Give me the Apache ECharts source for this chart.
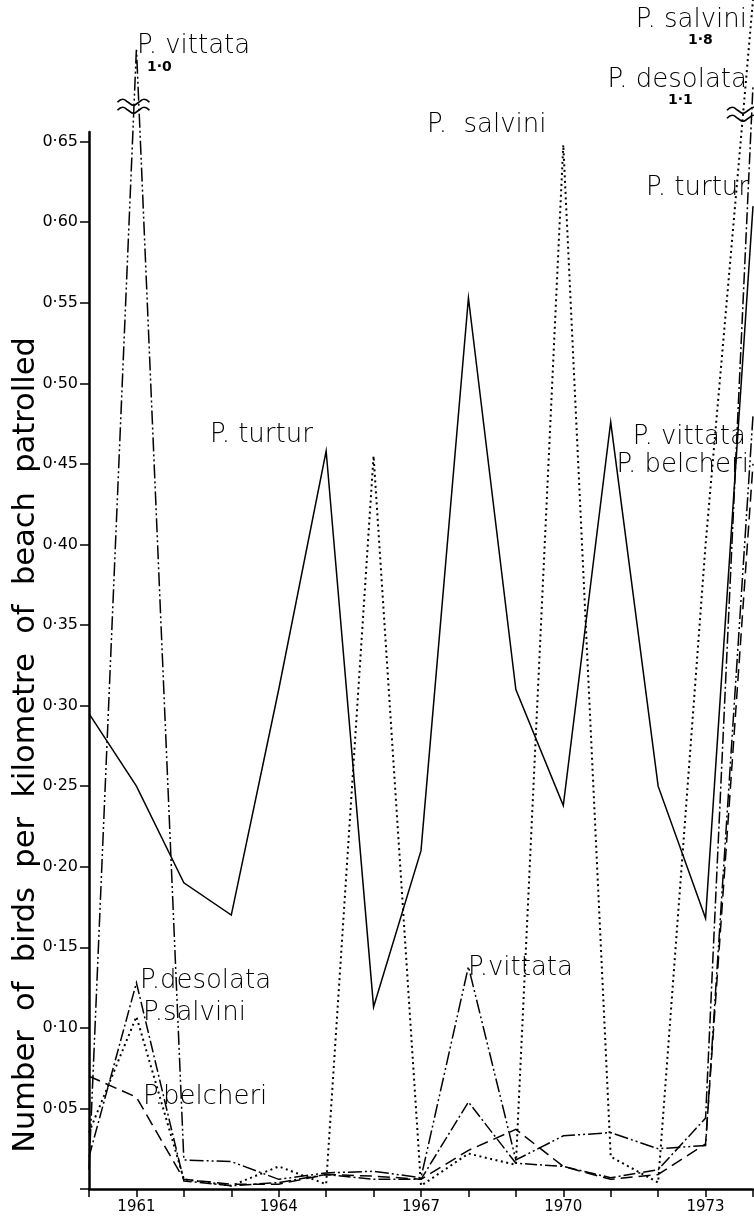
<!DOCTYPE html>
<html>
<head>
<meta charset="utf-8">
<script src="https://cdn.jsdelivr.net/npm/echarts@6/dist/echarts.min.js"></script>
<style>
  html, body { margin: 0; padding: 0; background: #fff; }
  #chart { width: 754px; height: 1219px; }
</style>
</head>
<body>
<div id="chart"></div>
<script>
// ---- data ----
const years = [1960, 1961, 1962, 1963, 1964, 1965, 1966, 1967, 1968, 1969, 1970, 1971, 1972, 1973, 1974];
const xLabelYears = [1961, 1964, 1967, 1970, 1973];
const yTicks = [0, 0.05, 0.10, 0.15, 0.20, 0.25, 0.30, 0.35, 0.40, 0.45, 0.50, 0.55, 0.60, 0.65];
const yLabels = [0.05, 0.10, 0.15, 0.20, 0.25, 0.30, 0.35, 0.40, 0.45, 0.50, 0.55, 0.60, 0.65];

// values above the axis break are plotted at the height drawn in the original;
// their true values are given in brokenValueLabels
const turtur   = [0.295, 0.25, 0.19, 0.17, 0.31, 0.458, 0.113, 0.21, 0.553, 0.31, 0.238, 0.476, 0.25, 0.168, 0.61];
const salvini  = [0.035, 0.107, 0.006, 0.002, 0.014, 0.003, 0.455, 0.002, 0.022, 0.015, 0.648, 0.02, 0.004, 0.40, 0.738];
const desolata = [0.02, 0.128, 0.005, 0.002, 0.004, 0.009, 0.006, 0.006, 0.054, 0.016, 0.014, 0.007, 0.012, 0.044, 0.685];
const vittata  = [0.012, 0.708, 0.018, 0.017, 0.006, 0.010, 0.011, 0.007, 0.138, 0.018, 0.033, 0.035, 0.025, 0.027, 0.48];
const belcheri = [0.07, 0.057, 0.006, 0.003, 0.003, 0.009, 0.008, 0.006, 0.024, 0.037, 0.014, 0.006, 0.009, 0.028, 0.45];
const brokenValueLabels = { vittata1961: '1·0', salvini1974: '1·8', desolata1974: '1·1' };
const breakLevel = 0.672;
const breakPoints = [[1961, breakLevel], [1974, breakLevel - 0.005]];

const yTitle = 'Number  of  birds  per  kilometre  of  beach  patrolled';

// ---- chart ----
const FONT = '"DejaVu Sans", "Noto Sans", sans-serif';
const chart = echarts.init(document.getElementById('chart'), null, { renderer: 'canvas' });

const pairs = arr => years.map((y, i) => [y, arr[i]]);

function line(name, arr, type, width) {
  return {
    name, type: 'line', data: pairs(arr), showSymbol: false, symbol: 'none',
    clip: false, animation: false, z: 3,
    lineStyle: { color: '#000', width: width || 1.5, type: type, cap: 'butt', join: 'miter' }
  };
}

function ann(text, x, y, align, size, weight) {
  return {
    type: 'text', x: x, y: y, z: 100,
    style: {
      text: text, fill: '#000', textAlign: align || 'left', textVerticalAlign: 'middle',
      font: (weight || 200) + ' ' + (size || 26) + 'px ' + FONT
    }
  };
}

const texts = [
  {
    type: 'text', x: 26, y: 745, rotation: Math.PI / 2, z: 100,
    style: { text: yTitle, fill: '#000', textAlign: 'center', textVerticalAlign: 'middle',
             font: '400 30.5px ' + FONT }
  },
  ann('P. vittata', 137, 46),
  ann(brokenValueLabels.vittata1961, 147, 67, 'left', 14, 'bold'),
  ann('P. salvini', 747, 20, 'right'),
  ann(brokenValueLabels.salvini1974, 688, 40, 'left', 14, 'bold'),
  ann('P. desolata', 747, 80, 'right'),
  ann(brokenValueLabels.desolata1974, 668, 100, 'left', 14, 'bold'),
  ann('P. turtur', 749, 188, 'right'),
  ann('P.  salvini', 427, 125),
  ann('P. turtur', 210, 435),
  ann('P. vittata', 746, 437, 'right'),
  ann('P. belcheri', 749, 465, 'right'),
  ann('P.desolata', 140, 981),
  ann('P.salvini', 143, 1013),
  ann('P.belcheri', 143, 1097),
  ann('P.vittata', 468, 968)
];

const option = {
  backgroundColor: '#fff',
  animation: false,
  grid: { left: 89, right: 1, top: 132, bottom: 30, containLabel: false },
  xAxis: {
    type: 'value', min: 1960, max: 1974, interval: 1,
    axisLine: { show: true, lineStyle: { color: '#000', width: 2.5 } },
    axisTick: { show: true, inside: false, length: 8, lineStyle: { color: '#000', width: 1.5 },
                customValues: years },
    axisLabel: { show: true, margin: 11, color: '#000', fontFamily: FONT, fontSize: 15,
                 customValues: xLabelYears, formatter: v => String(v) },
    splitLine: { show: false }
  },
  yAxis: {
    type: 'value', min: 0, max: 0.656,
    axisLine: { show: true, lineStyle: { color: '#000', width: 2.5 } },
    axisTick: { show: true, inside: false, length: 9, lineStyle: { color: '#000', width: 1.5 },
                customValues: yTicks },
    axisLabel: { show: true, margin: 11, color: '#000', fontFamily: FONT, fontSize: 16,
                 customValues: yLabels, formatter: v => v.toFixed(2).replace('.', '·') },
    splitLine: { show: false }
  },
  series: [
    line('P. turtur', turtur, 'solid'),
    line('P. salvini', salvini, [2, 3.5], 2),
    line('P. desolata', desolata, [12, 3, 2, 3]),
    line('P. vittata', vittata, [14, 3, 2, 3, 2, 3]),
    line('P. belcheri', belcheri, [12, 6])
  ],
  graphic: texts
};
chart.setOption(option);

// break marks (double wavy strokes) on the lines that run off the scale
const marks = [];
breakPoints.forEach((p, i) => {
  const px = chart.convertToPixel({ gridIndex: 0 }, p);
  const cx = px[0] + (i === 0 ? -3 : -10);
  [-4, 4].forEach(dy => {
    const y0 = px[1] + dy;
    const pts = [];
    for (let k = 0; k <= 6; k++) {
      pts.push([cx - 16 + k * 32 / 6, y0 + (k % 2 === 1 ? (k % 4 === 1 ? -3 : 3) : 0)]);
    }
    marks.push({
      type: 'polyline', z: 101,
      shape: { points: pts, smooth: 0.5 },
      style: { fill: null, stroke: '#000', lineWidth: 1.6 }
    });
  });
});
chart.setOption({ graphic: texts.concat(marks) });
</script>
</body>
</html>
